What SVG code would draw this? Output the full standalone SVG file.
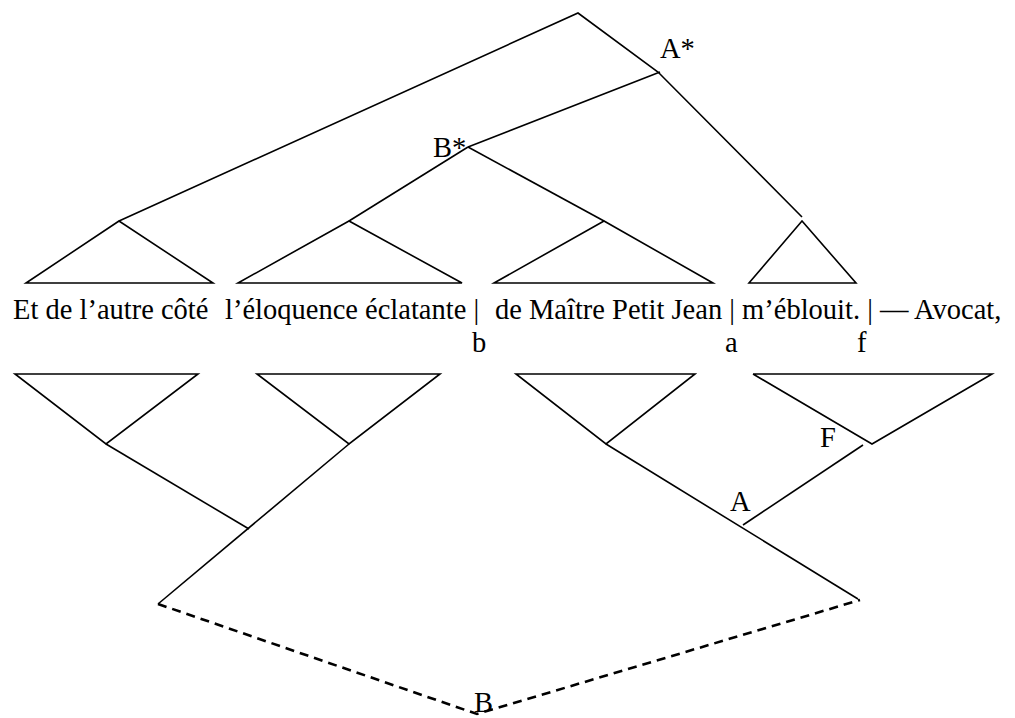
<svg xmlns="http://www.w3.org/2000/svg" width="1015" height="718" viewBox="0 0 1015 718">
<style>
.ln{fill:none;stroke:#000;stroke-width:1.6;stroke-linejoin:miter}
.ds{fill:none;stroke:#000;stroke-width:2.6;stroke-dasharray:9 6}
.tx{font-family:"Liberation Serif","Times New Roman",serif;font-size:28.5px;fill:#000}
</style>
<rect width="1015" height="718" fill="#fff"/>
<g id="connectors">
<polyline class="ln" points="119,221 578,13 658,72 802,217"/>
<line class="ln" x1="660" y1="72" x2="468" y2="147"/>
<line class="ln" x1="468" y1="147" x2="349" y2="221"/>
<line class="ln" x1="468" y1="147" x2="604" y2="221"/>
<line class="ln" x1="106" y1="444" x2="249" y2="529"/>
<line class="ln" x1="349" y1="444" x2="158" y2="604"/>
<line class="ln" x1="606" y1="444" x2="858" y2="599"/>
<line class="ln" x1="863" y1="445" x2="743" y2="525"/>
<polyline class="ds" points="158,604 477,714 860,600"/>
</g>
<g id="t1"><polygon class="ln" points="119,221 26,283 213,283"/></g>
<g id="t2"><polygon class="ln" points="349,221 238,283 462,283"/></g>
<g id="t3"><polygon class="ln" points="604,221 494,283 713,283"/></g>
<g id="t4"><polygon class="ln" points="802,221 749,283 856,283"/></g>
<g id="l1"><polygon class="ln" points="15,374 198,374 106,444"/></g>
<g id="l2"><polygon class="ln" points="257,374 440,374 349,444"/></g>
<g id="l3"><polygon class="ln" points="516,374 695,374 606,444"/></g>
<g id="l4"><polyline class="ln" points="753,374 872,444 992,374 753,374"/></g>
<g id="sentence">
<text class="tx" x="13" y="319">Et de l’autre côté</text>
<text class="tx" x="225" y="319">l’éloquence éclatante |</text>
<text class="tx" x="495" y="319">de Maître Petit Jean | m’éblouit. | — Avocat,</text>
</g>
<g id="marks">
<text class="tx" x="472" y="352">b</text>
<text class="tx" x="725" y="352">a</text>
<text class="tx" x="857" y="352">f</text>
</g>
<g id="labels">
<text class="tx" x="660" y="58">A*</text>
<text class="tx" x="433" y="157">B*</text>
<text class="tx" x="820" y="447">F</text>
<text class="tx" x="730" y="511">A</text>
<text class="tx" x="474" y="712">B</text>
</g>
</svg>
